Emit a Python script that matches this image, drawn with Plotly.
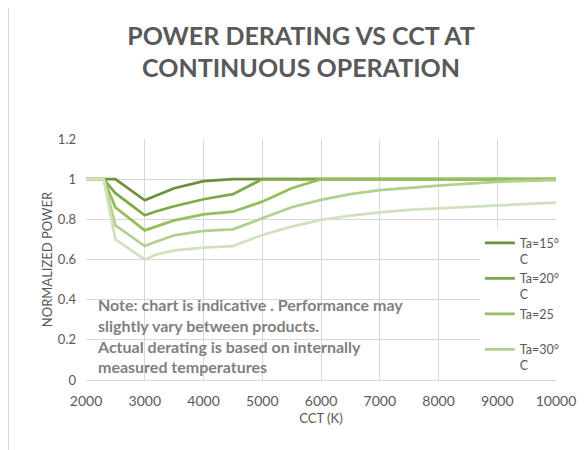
import plotly.graph_objects as go

cct = [2000, 2300, 2500, 3000, 3200, 3500, 4000, 4500, 5000, 5500, 6000,
       6500, 7000, 7500, 8000, 8500, 9000, 9500, 10000]

ta15 = [1, 1, 1.0, 0.895, 0.92, 0.955, 0.99, 1, 1, 1, 1,
        1, 1, 1, 1, 1, 1, 1, 1]
ta20 = [1, 1, 0.93, 0.82, 0.84, 0.865, 0.9, 0.925, 1, 1, 1,
        1, 1, 1, 1, 1, 1, 1, 1]
ta25 = [1, 1, 0.86, 0.745, 0.765, 0.795, 0.825, 0.838, 0.888, 0.955, 1,
        1, 1, 1, 1, 1, 1, 1, 1]
ta30 = [1, 1, 0.77, 0.667, 0.69, 0.72, 0.742, 0.75, 0.805, 0.86, 0.897,
        0.925, 0.945, 0.958, 0.968, 0.978, 0.987, 0.992, 0.995]
ta35 = [1, 1, 0.70, 0.60, 0.625, 0.645, 0.659, 0.667, 0.722, 0.764, 0.797,
        0.818, 0.835, 0.847, 0.855, 0.862, 0.872, 0.877, 0.883]

names = ["Ta=15°<br>C", "Ta=20°<br>C", "Ta=25<br>\u00a0", "Ta=30°<br>C", "Ta=35°<br>C"]
series = [ta15, ta20, ta25, ta30, ta35]
colors = ["#6b8f3c", "#7caa44", "#93c05a", "#b2d08f", "#cfe2bc"]
show = [True, True, True, True, False]

x_ticks = [2000, 3000, 4000, 5000, 6000, 7000, 8000, 9000, 10000]
x_ticktext = ["2000", "3000", "4000", "5000", "6000", "7000", "8000", "9000", "10000"]
y_ticks = [0, 0.2, 0.4, 0.6, 0.8, 1, 1.2]
y_ticktext = ["0", "0.2", "0.4", "0.6", "0.8", "1", "1.2"]

note = ("Note: chart is indicative . Performance may<br>"
        "slightly vary between products.<br>"
        "Actual derating is based on internally<br>"
        "measured temperatures")

FONT = "Lato"
fig = go.Figure()
for n, s, c, sh in zip(names, series, colors, show):
    fig.add_trace(go.Scatter(x=cct, y=s, mode="lines", name=n, showlegend=sh,
                             line=dict(color=c, width=2.75)))

fig.update_layout(
    width=585, height=450,
    margin=dict(l=78, r=37, t=131, b=78, autoexpand=False),
    paper_bgcolor="white", plot_bgcolor="white",
    font=dict(family=FONT, color="#595959"),
    title=dict(text="<b>POWER DERATING VS CCT AT<br>CONTINUOUS OPERATION</b>",
               x=0.501, xanchor="center", xref="container", y=0.918, yanchor="middle",
               font=dict(size=25, color="#595959", family=FONT)),
    xaxis=dict(range=[2000, 10000], tickvals=x_ticks, ticktext=x_ticktext, showgrid=True,
               gridcolor="#d9d9d9", gridwidth=1, zeroline=False,
               showline=True, linecolor="#d9d9d9", linewidth=1,
               ticklabelstandoff=8,
               tickfont=dict(size=14, color="#595959"),
               title=dict(text="CCT (K)", font=dict(size=13, color="#595959"), standoff=6)),
    yaxis=dict(range=[0, 1.2], tickvals=y_ticks, ticktext=y_ticktext, showgrid=True,
               gridcolor="#d9d9d9", gridwidth=1, zeroline=False,
               showline=False, ticks="", ticklabelstandoff=9,
               tickfont=dict(size=13, color="#595959"),
               title=dict(text="NORMALIZED POWER", font=dict(size=13, color="#595959"), standoff=2)),
    legend=dict(x=0.838, y=0.63, xanchor="left", yanchor="top",
                bgcolor="white", font=dict(size=12.5, color="#595959"),
                valign="top", tracegroupgap=0, itemwidth=30),
    annotations=[dict(text="<b>" + note + "</b>", xref="paper", yref="paper",
                      x=0.019, y=0.36, xanchor="left", yanchor="top", align="left",
                      showarrow=False, font=dict(size=16, color="#7f7f7f", family=FONT))],
    shapes=[dict(type="line", xref="paper", yref="paper",
                 x0=-0.1649, x1=-0.1649, y0=-0.4, y1=1.6,
                 line=dict(color="#d9d9d9", width=1))],
)

fig.write_html("out.html")
